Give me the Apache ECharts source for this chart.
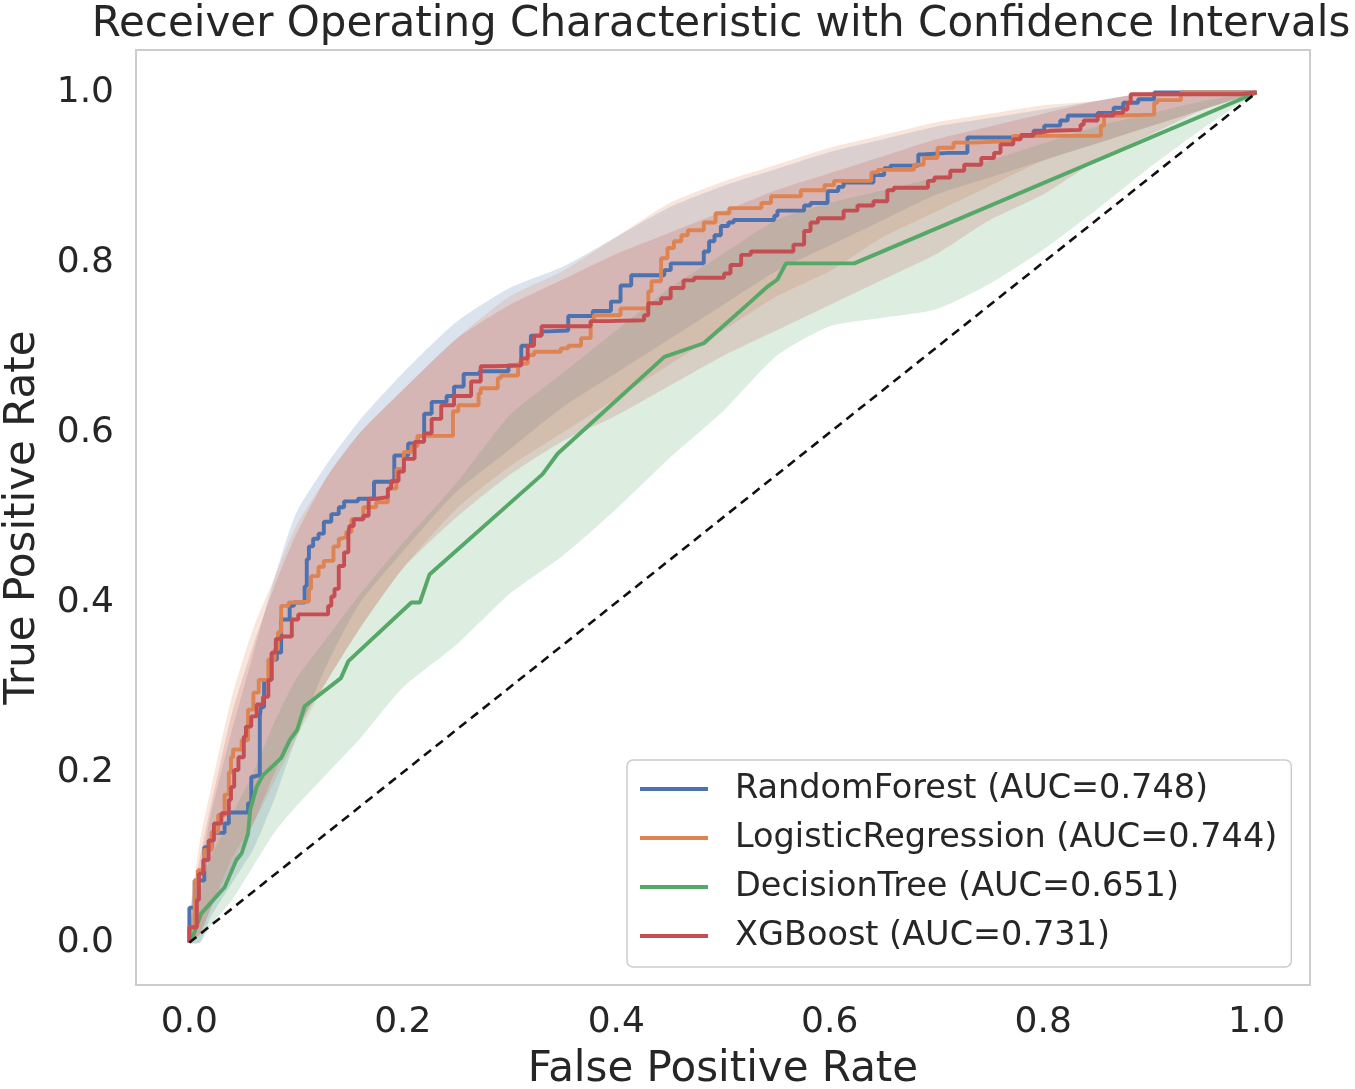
<!DOCTYPE html>
<html>
<head>
<meta charset="utf-8">
<script src="https://cdn.jsdelivr.net/npm/echarts@6/dist/echarts.min.js"></script>
<style>html,body{margin:0;padding:0;background:#fff}#chart{width:1355px;height:1089px}</style>
</head>
<body>
<div id="chart"></div>
<script>
// ---- data ----
const tickValues = [0, 0.2, 0.4, 0.6, 0.8, 1.0];
const modelNames = ['RandomForest (AUC=0.748)', 'LogisticRegression (AUC=0.744)', 'DecisionTree (AUC=0.651)', 'XGBoost (AUC=0.731)'];

const rfFpr = [0,0,0.005,0.014,0.021,0.033,0.037,0.042,0.055,0.058,0.060,0.066,0.067,0.070,0.077,0.082,0.086,0.094,0.098,0.108,0.110,0.112,0.116,0.121,0.126,0.133,0.140,0.145,0.158,0.173,0.192,0.205,0.214,0.220,0.227,0.241,0.248,0.257,0.272,0.299,0.311,0.320,0.330,0.336,0.355,0.378,0.395,0.404,0.414,0.423,0.445,0.451,0.482,0.487,0.492,0.498,0.505,0.510,0.548,0.551,0.576,0.582,0.598,0.608,0.613,0.641,0.651,0.657,0.683,0.687,0.711,0.729,0.779,0.791,0.801,0.816,0.823,0.851,0.866,0.875,0.889,0.904,0.910,1];
const rfTpr = [0,0.014,0.041,0.073,0.112,0.129,0.140,0.153,0.153,0.164,0.195,0.197,0.266,0.277,0.309,0.333,0.341,0.380,0.396,0.400,0.419,0.451,0.466,0.475,0.481,0.495,0.504,0.512,0.519,0.522,0.542,0.573,0.587,0.596,0.622,0.636,0.643,0.654,0.669,0.672,0.679,0.702,0.714,0.719,0.720,0.737,0.743,0.754,0.773,0.785,0.785,0.791,0.799,0.813,0.825,0.832,0.843,0.847,0.850,0.855,0.861,0.867,0.870,0.884,0.889,0.894,0.903,0.911,0.914,0.927,0.929,0.929,0.947,0.950,0.955,0.961,0.967,0.973,0.976,0.982,0.988,0.992,1,1];

const lrFpr = [0,0,0.005,0.008,0.014,0.021,0.027,0.033,0.037,0.039,0.041,0.049,0.055,0.060,0.065,0.074,0.080,0.083,0.086,0.093,0.098,0.112,0.114,0.121,0.126,0.135,0.140,0.142,0.147,0.152,0.163,0.175,0.186,0.194,0.201,0.208,0.214,0.227,0.247,0.252,0.271,0.273,0.289,0.292,0.308,0.317,0.323,0.348,0.355,0.367,0.376,0.379,0.404,0.430,0.433,0.442,0.448,0.454,0.461,0.467,0.482,0.493,0.506,0.536,0.545,0.573,0.595,0.604,0.639,0.645,0.679,0.688,0.701,0.716,0.735,0.772,0.798,0.854,0.857,0.873,0.904,0.907,0.929,0.950,1];
const lrTpr = [0,0.011,0.018,0.073,0.085,0.109,0.130,0.150,0.174,0.200,0.218,0.227,0.238,0.274,0.294,0.309,0.333,0.345,0.365,0.396,0.400,0.401,0.416,0.431,0.442,0.449,0.466,0.475,0.477,0.483,0.498,0.512,0.518,0.534,0.557,0.577,0.584,0.596,0.596,0.625,0.632,0.646,0.652,0.664,0.667,0.681,0.691,0.695,0.699,0.702,0.711,0.731,0.738,0.746,0.766,0.778,0.805,0.817,0.825,0.832,0.838,0.847,0.858,0.864,0.870,0.878,0.885,0.891,0.896,0.906,0.909,0.915,0.923,0.935,0.941,0.943,0.949,0.949,0.961,0.973,0.974,0.988,0.991,1,1];

const dtFpr = [0,0.003,0.011,0.033,0.044,0.049,0.055,0.057,0.063,0.069,0.086,0.094,0.101,0.108,0.142,0.149,0.208,0.216,0.225,0.331,0.345,0.445,0.482,0.526,0.542,0.551,0.559,0.623,1];
const dtTpr = [0,0.006,0.034,0.065,0.097,0.105,0.128,0.156,0.183,0.197,0.217,0.238,0.250,0.278,0.311,0.331,0.400,0.400,0.433,0.551,0.575,0.689,0.705,0.754,0.772,0.780,0.799,0.799,1];

const xgbFpr = [0,0,0.007,0.009,0.013,0.018,0.023,0.030,0.037,0.039,0.042,0.046,0.051,0.053,0.058,0.063,0.069,0.074,0.077,0.081,0.086,0.096,0.102,0.105,0.130,0.133,0.136,0.140,0.145,0.149,0.150,0.154,0.163,0.168,0.175,0.186,0.189,0.196,0.201,0.211,0.220,0.227,0.236,0.248,0.264,0.273,0.286,0.311,0.317,0.323,0.330,0.332,0.376,0.392,0.426,0.430,0.442,0.451,0.463,0.473,0.501,0.507,0.517,0.526,0.566,0.576,0.582,0.589,0.613,0.626,0.641,0.654,0.660,0.692,0.698,0.713,0.726,0.742,0.754,0.760,0.772,0.779,0.791,0.798,0.807,0.835,0.838,0.851,0.866,0.875,0.879,0.882,0.884,0.985,1];
const xgbTpr = [0,0.014,0.018,0.050,0.081,0.097,0.120,0.140,0.152,0.168,0.183,0.203,0.218,0.242,0.254,0.266,0.280,0.289,0.309,0.341,0.357,0.360,0.380,0.386,0.386,0.396,0.407,0.416,0.443,0.459,0.481,0.490,0.498,0.502,0.522,0.524,0.534,0.543,0.554,0.569,0.589,0.599,0.616,0.632,0.643,0.660,0.678,0.679,0.687,0.702,0.714,0.725,0.725,0.731,0.732,0.738,0.752,0.758,0.770,0.779,0.782,0.787,0.797,0.809,0.813,0.821,0.837,0.847,0.852,0.861,0.867,0.872,0.885,0.888,0.896,0.900,0.908,0.915,0.923,0.929,0.939,0.945,0.949,0.953,0.955,0.956,0.962,0.967,0.973,0.976,0.980,0.988,0.998,0.998,1];

// confidence bands on a common FPR grid
const bandFpr  = [0,0.01,0.02,0.04,0.06,0.08,0.1,0.13,0.16,0.2,0.25,0.3,0.35,0.4,0.45,0.5,0.55,0.6,0.65,0.7,0.75,0.8,0.85,0.9,0.95,1];
const rfUpper  = [0.02,0.08,0.15,0.25,0.34,0.43,0.505,0.565,0.615,0.67,0.73,0.77,0.795,0.83,0.865,0.89,0.91,0.93,0.945,0.96,0.97,0.98,0.99,1,1,1];
const rfLower  = [0,0,0.03,0.07,0.11,0.17,0.24,0.33,0.40,0.46,0.53,0.58,0.63,0.67,0.71,0.75,0.79,0.82,0.85,0.88,0.9,0.92,0.94,0.96,0.98,1];
const lrUpper  = [0.03,0.12,0.18,0.29,0.37,0.43,0.49,0.55,0.60,0.65,0.71,0.76,0.79,0.83,0.87,0.895,0.915,0.935,0.95,0.965,0.975,0.985,0.99,1,1,1];
const lrLower  = [0,0.01,0.04,0.10,0.14,0.19,0.24,0.31,0.37,0.44,0.51,0.56,0.60,0.64,0.68,0.72,0.76,0.79,0.83,0.86,0.89,0.92,0.94,0.96,0.98,1];
const dtUpper  = [0.02,0.06,0.10,0.15,0.20,0.26,0.31,0.36,0.41,0.47,0.54,0.62,0.67,0.72,0.77,0.81,0.85,0.87,0.885,0.90,0.92,0.94,0.96,0.975,0.99,1];
const dtLower  = [0,0,0.02,0.05,0.09,0.13,0.16,0.20,0.24,0.30,0.35,0.41,0.455,0.51,0.57,0.625,0.69,0.725,0.735,0.745,0.775,0.815,0.862,0.912,0.958,1];
const xgbUpper = [0.03,0.10,0.16,0.27,0.35,0.42,0.48,0.55,0.60,0.65,0.71,0.75,0.78,0.81,0.835,0.86,0.885,0.905,0.925,0.945,0.96,0.975,0.99,1,1,1];
const xgbLower = [0,0.01,0.04,0.09,0.14,0.20,0.25,0.31,0.37,0.44,0.50,0.55,0.59,0.62,0.655,0.69,0.72,0.75,0.78,0.81,0.85,0.88,0.92,0.95,0.98,1];

const diagX = [0, 1];
const diagY = [0, 1];

// ---- styling ----
const COLORS = ['#4C72B0', '#DD8452', '#55A868', '#C44E52'];
const FONT = 'DejaVu Sans';
const TEXT = '#262626';

function pairs(xs, ys) { return xs.map((x, i) => [x, ys[i]]); }

function bandSeries(name, upper, lower, color) {
  return {
    name: name, type: 'custom', coordinateSystem: 'cartesian2d', silent: true, z: 1,
    data: [[0, 0]],
    renderItem: function (params, api) {
      const pts = [];
      for (let i = 0; i < bandFpr.length; i++) pts.push(api.coord([bandFpr[i], upper[i]]));
      for (let i = bandFpr.length - 1; i >= 0; i--) pts.push(api.coord([bandFpr[i], lower[i]]));
      return { type: 'polygon', shape: { points: pts, smooth: 0.2 }, style: { fill: color, opacity: 0.2 } };
    }
  };
}

function lineSeries(name, xs, ys, color, step) {
  return {
    name: name, type: 'line', data: pairs(xs, ys), step: step, color: color,
    showSymbol: false, symbol: 'none', z: 3,
    lineStyle: { color: color, width: 3.9 }, itemStyle: { color: color }
  };
}

const chart = echarts.init(document.getElementById('chart'), null, { renderer: 'canvas' });
const axisCommon = {
  type: 'value', min: -0.05, max: 1.05,
  axisLine: { show: false }, axisTick: { show: false }, splitLine: { show: false },
  nameLocation: 'middle',
  nameTextStyle: { fontFamily: FONT, fontSize: 42, color: TEXT }
};
chart.setOption({
  animation: false,
  backgroundColor: '#ffffff',
  grid: { left: 136, right: 45, top: 50, bottom: 104, containLabel: false, outerBoundsMode: 'none', show: true, borderColor: '#cccccc', borderWidth: 2, backgroundColor: 'transparent' },
  graphic: [{
    type: 'text', x: 721, y: 4, z: 10,
    style: { text: 'Receiver Operating Characteristic with Confidence Intervals', fill: TEXT, fontFamily: FONT, fontSize: 42, align: 'center', verticalAlign: 'top' }
  }],
  xAxis: Object.assign({}, axisCommon, {
    name: 'False Positive Rate', nameGap: 64,
    axisLabel: { customValues: tickValues, formatter: v => v.toFixed(1), fontFamily: FONT, fontSize: 36, color: TEXT, margin: 20 }
  }),
  yAxis: Object.assign({}, axisCommon, {
    name: 'True Positive Rate', nameGap: 92,
    axisLabel: { customValues: tickValues, formatter: v => v.toFixed(1), fontFamily: FONT, fontSize: 36, color: TEXT, margin: 22, padding: [8, 0, 0, 0] }
  }),
  legend: {
    data: modelNames, orient: 'vertical', left: 627, top: 760,
    padding: [9, 14, 11, 13], itemGap: 9, itemWidth: 68, itemHeight: 4, icon: 'rect',
    backgroundColor: 'rgba(255,255,255,0.85)', borderColor: '#cccccc', borderWidth: 1.5, borderRadius: 6,
    textStyle: { fontFamily: FONT, fontSize: 33.5, color: TEXT, lineHeight: 40, padding: [0, 0, 0, 22] }
  },
  series: [
    bandSeries('rf band', rfUpper, rfLower, COLORS[0]),
    bandSeries('lr band', lrUpper, lrLower, COLORS[1]),
    bandSeries('dt band', dtUpper, dtLower, COLORS[2]),
    bandSeries('xgb band', xgbUpper, xgbLower, COLORS[3]),
    lineSeries(modelNames[0], rfFpr, rfTpr, COLORS[0], 'start'),
    lineSeries(modelNames[1], lrFpr, lrTpr, COLORS[1], 'start'),
    lineSeries(modelNames[2], dtFpr, dtTpr, COLORS[2], false),
    lineSeries(modelNames[3], xgbFpr, xgbTpr, COLORS[3], 'start'),
    {
      name: 'chance', type: 'line', data: pairs(diagX, diagY), showSymbol: false, symbol: 'none', z: 4,
      lineStyle: { color: '#111111', width: 2.6, type: [9, 6] }
    }
  ]
});
</script>
</body>
</html>
